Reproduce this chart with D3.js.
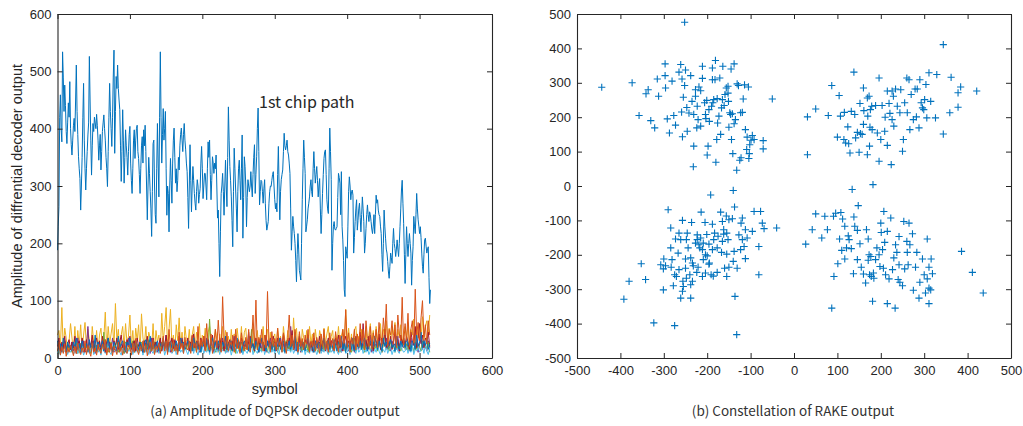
<!DOCTYPE html>
<html><head><meta charset="utf-8">
<script src="https://cdn.jsdelivr.net/npm/d3@7"></script>
<style>
html,body{margin:0;padding:0;background:#fff;}
svg{display:block;}
.tick text{font-family:"Liberation Sans",Arial,sans-serif;font-size:13px;fill:#262626;}
</style></head>
<body>
<svg id="chart" width="1023" height="426"></svg>
<script>
// ---------- data: left panel (amplitude of DQPSK decoder output) ----------
const xTicksLeft = [0,100,200,300,400,500,600];
const yTicksLeft = [0,100,200,300,400,500,600];
const xTicksRight = [-500,-400,-300,-200,-100,0,100,200,300,400,500];
const yTicksRight = [-500,-400,-300,-200,-100,0,100,200,300,400,500];

// 1st chip path, one value per symbol (0..515)
const chipPath1 = [
188,230,264,420,459,400,377,534,490,430,
476,440,395,374,410,445,420,482,400,372,
354,380,405,418,395,450,511,430,390,351,
330,313,258,300,350,420,479,380,330,293,
330,360,389,410,526,450,380,319,370,409,
395,420,410,400,425,405,380,345,370,390,
328,360,395,410,424,400,380,350,330,299,
360,420,479,430,400,369,420,490,537,357,
430,491,470,511,470,450,433,370,308,360,
433,380,305,350,398,370,350,319,360,390,
404,340,310,287,330,380,398,348,380,400,
406,360,348,320,287,330,370,386,340,398,
370,406,360,300,241,300,350,322,290,260,
212,290,374,380,300,250,235,330,409,340,
281,420,534,420,340,390,435,380,400,430,
330,249,300,287,220,300,348,310,270,340,
380,401,350,305,330,290,310,350,328,370,
390,401,380,360,390,409,380,363,340,325,
280,226,300,372,310,255,300,334,310,287,
270,258,290,311,300,270,285,296,340,369,
330,278,300,322,322,300,276,330,377,350,
380,320,276,310,351,340,322,340,330,354,
300,244,258,200,142,220,287,300,322,290,
249,300,345,300,264,350,438,380,334,310,
281,240,194,290,366,330,293,260,220,290,
330,345,310,276,330,389,209,280,351,334,
300,229,280,311,300,290,300,325,300,281,
320,350,372,287,320,351,400,436,360,267,
290,310,308,290,270,295,311,270,240,223,
230,238,270,290,300,299,310,320,325,300,
276,260,270,255,320,369,300,241,290,311,
320,328,360,392,370,363,370,380,360,354,
340,322,260,188,220,247,230,217,200,170,
133,180,217,190,153,145,136,200,276,330,
380,350,322,220,230,241,260,270,281,300,
311,290,281,330,360,330,305,320,334,310,
281,300,313,260,217,250,287,320,348,360,
363,320,276,260,252,330,401,360,311,153,
200,230,238,225,223,226,229,280,322,315,
305,250,325,229,206,170,119,107,194,185,
174,230,290,316,300,276,290,293,284,183,
210,238,260,276,223,240,260,270,245,220,
250,281,260,238,183,200,226,250,267,250,
238,255,250,238,225,217,230,250,217,250,
284,270,276,258,250,247,230,217,180,151,
200,258,230,209,190,183,168,150,139,160,
183,175,165,200,226,200,191,177,190,206,
190,177,200,229,260,293,310,270,235,180,
130,180,229,200,177,200,217,200,183,127,
170,194,247,230,217,250,287,260,241,230,
217,229,210,183,160,148,180,206,209,195,
183,190,194,140,95,119];

// other chip paths, sampled every 2 symbols (0,2,...,514)
const pathYellow = [
40,48,20,88,15,52,35,10,30,60, 35,12,55,8,48,22,58,14,40,62, 18,50,30,10,55,28,20,48,12,40,
52,20,35,80,15,55,25,42,60,18, 95,30,50,12,40,55,18,60,25,38, 75,20,48,10,52,30,58,12,77,35,
22,55,14,45,35,18,60,10,48,28, 40,15,78,30,55,88,20,50,85,22, 40,12,58,30,70,18,45,10,55,32,
25,50,12,40,55,18,45,28,60,10, 40,25,52,12,45,55,20,38,14,50, 32,10,42,22,55,14,48,25,38,18,
50,20,42,10,52,30,22,55,12,45, 52,18,38,12,42,55,20,35,48,10, 40,25,55,14,38,50,20,45,12,35,
42,18,52,25,38,12,55,30,20,48, 25,45,14,70,30,52,18,42,10,50, 35,20,48,12,55,25,42,10,50,30,
20,48,35,12,52,25,42,55,18,38, 48,14,42,25,55,20,38,50,12,85, 30,52,20,42,12,48,55,25,38,18,
50,28,20,55,14,42,60,25,48,20, 55,30,22,60,18,50,38,65,25,52, 25,55,40,62,20,50,35,58,22,48,
55,28,62,20,50,40,68,25,55,35, 60,35,72,28,55,65,40,75];
const pathPurple = [
12,20,8,25,15,30,10,18,22,14, 28,12,20,8,35,18,25,10,30,15, 20,55,12,25,18,30,8,22,15,28,
10,25,18,32,12,20,28,15,35,10, 22,15,30,12,25,18,8,28,20,35, 15,25,10,30,18,22,12,28,15,20,
30,12,25,18,8,35,20,15,28,10, 22,30,15,25,12,40,18,28,10,22, 15,32,20,10,28,18,35,12,25,20,
28,15,22,38,12,25,18,30,10,22, 18,28,12,35,20,15,30,22,10,25, 30,12,22,18,35,15,25,10,28,20,
15,25,38,12,22,30,18,10,28,15, 25,18,45,12,30,20,15,28,22,10, 32,15,25,18,10,28,20,35,12,25,
18,28,12,22,35,15,25,10,30,20, 15,55,22,30,12,25,18,35,10,22, 28,15,20,32,12,25,18,10,30,22,
15,28,20,12,35,18,25,10,22,30, 12,25,18,30,15,22,10,28,35,15, 22,12,30,18,25,10,28,20,15,35,
18,25,12,30,22,15,40,10,28,20, 25,15,32,18,10,28,22,35,15,25, 12,30,20,25,15,38,10,28,22,18,
30,15,25,12,35,20,28,15,22,10, 25,32,15,28,20,12,30,18];
const pathGreen = [
15,8,22,12,28,18,10,25,14,20, 10,22,15,30,8,18,25,12,20,15, 25,12,18,8,30,15,22,10,28,18,
12,20,45,15,25,10,18,28,12,22, 18,30,10,25,15,20,8,28,18,12, 22,15,30,10,18,25,12,20,28,15,
10,25,18,32,12,20,15,28,10,22, 18,12,28,15,22,35,10,20,25,12, 20,28,15,10,25,18,30,12,22,15,
25,12,20,30,15,22,10,28,18,12, 22,30,15,25,12,68,20,15,28,10, 18,25,12,30,15,22,10,20,28,15,
12,25,18,8,30,15,22,28,10,20, 15,28,12,22,50,18,10,25,15,30, 20,12,28,15,22,10,25,18,12,30,
15,22,10,28,18,25,12,20,30,15, 22,12,28,15,45,20,10,25,18,12, 28,15,22,10,25,18,30,12,20,15,
10,25,18,30,12,22,15,28,10,20, 18,12,25,15,30,10,22,18,28,12, 25,15,20,10,28,35,12,22,18,30,
15,22,10,25,18,30,12,20,28,15, 22,12,28,18,10,25,40,15,22,12, 30,18,22,10,28,15,25,12,20,35,
15,25,12,30,18,22,10,28,15,25, 20,12,30,18,25,15,28,10];
const pathLightBlue = [
8,15,5,20,10,12,18,6,14,10, 18,6,12,22,8,15,10,20,5,12, 10,18,8,14,25,6,12,20,10,15,
5,20,12,8,15,22,10,6,18,12, 15,8,20,10,5,18,12,25,8,14, 12,20,6,15,10,18,8,12,22,5,
18,10,14,6,20,12,8,16,10,25, 8,15,12,20,5,14,18,10,22,8, 12,18,6,15,25,10,14,8,20,12,
6,15,10,22,8,18,12,5,16,10, 20,8,14,10,25,6,18,12,8,15, 10,22,6,15,12,20,8,14,10,18,
5,16,12,22,8,14,10,20,6,15, 12,8,18,10,22,6,15,12,8,20, 14,10,25,6,16,12,8,20,10,15,
8,18,12,6,22,10,15,8,20,12, 15,10,20,8,14,25,6,18,12,10, 20,6,15,12,8,18,10,22,14,6,
12,20,8,15,10,25,12,6,18,10, 15,8,22,12,6,18,10,14,20,8, 10,18,6,25,12,15,8,20,10,14,
22,8,15,10,18,6,12,20,8,16, 10,25,12,6,18,14,10,22,8,15, 18,6,14,10,20,12,8,25,15,10,
12,20,8,16,10,22,6,15,12,18, 10,14,20,8,25,12,6,18];
const pathDarkRed = [
20,35,12,28,18,38,10,25,32,15, 28,18,38,12,25,30,15,35,20,10, 32,15,28,20,40,12,25,35,18,30,
15,38,22,10,28,35,18,25,12,30, 22,35,15,28,40,18,25,12,32,20, 38,15,25,30,12,35,20,28,18,10,
30,22,38,15,25,12,35,20,28,18, 25,35,12,30,20,40,15,28,22,35, 18,30,25,12,38,20,32,15,28,22,
35,12,28,20,42,18,30,25,15,35, 22,38,15,28,32,12,25,40,18,30, 28,15,35,22,30,12,38,20,25,32,
15,30,22,40,18,28,12,35,25,20, 32,15,28,38,20,25,12,35,22,30, 18,35,25,12,40,22,30,15,28,38,
25,12,35,20,30,18,42,15,28,22, 35,20,48,15,30,25,12,38,22,28, 15,32,25,40,18,28,12,35,22,30,
20,38,15,28,32,12,25,35,18,30, 28,15,35,22,40,18,30,12,28,38, 22,30,15,35,25,12,38,20,28,45,
18,60,25,32,15,38,22,28,12,35, 30,20,42,15,35,25,50,18,30,22, 38,15,28,45,20,32,12,40,25,35,
20,38,28,15,45,30,22,55,18,35, 60,25,40,18,35,28,45,20];
const pathBlue2 = [
30,15,25,10,35,20,12,28,18,22, 12,28,20,35,15,25,8,30,18,22, 25,10,32,18,22,15,40,12,28,20,
18,30,12,25,20,35,15,22,10,28, 20,12,38,15,25,30,18,10,28,22, 35,18,25,12,30,20,15,28,22,10,
25,32,15,20,38,12,28,18,22,30, 12,25,20,35,15,28,10,22,30,18, 25,15,30,20,12,35,22,28,15,20,
30,18,25,12,35,20,28,15,22,10, 28,20,15,32,22,10,25,35,18,28, 15,30,22,12,28,20,38,15,25,18,
30,12,25,20,35,18,28,10,22,30, 20,28,12,35,18,25,15,30,22,10, 25,35,18,22,12,30,20,28,15,25,
12,28,20,35,15,22,30,10,25,18, 30,15,25,20,38,12,28,22,18,30, 22,12,28,35,15,25,20,10,30,18,
28,20,12,25,35,18,22,30,15,25, 18,32,22,12,28,20,38,15,25,10, 30,20,25,15,35,12,28,22,18,30,
15,28,35,20,12,25,30,18,22,38, 25,15,30,22,12,35,20,28,18,25, 32,18,25,12,38,22,15,30,20,28,
18,35,22,28,12,30,25,15,40,20, 28,45,18,30,22,35,15,25];
const pathOrange = [
12,28,5,20,8,25,3,18,10,22, 15,4,20,8,26,12,6,18,10,30, 6,22,12,3,25,10,18,5,24,14,
8,24,15,32,5,18,10,26,4,20, 14,6,28,10,20,5,30,14,8,22, 18,5,26,10,34,14,6,20,12,30,
10,24,4,18,28,12,32,6,20,14, 26,8,20,38,12,30,6,50,18,10, 32,12,22,6,45,16,26,8,36,18,
14,30,8,40,18,26,10,55,14,32, 20,38,12,60,24,14,42,8,28,50, 18,66,28,10,107,36,16,45,12,28,
22,40,10,50,16,32,8,44,22,12, 36,14,50,10,30,75,22,101,14,36, 26,50,12,40,18,116,28,10,46,20,
34,14,52,22,30,10,44,24,8,36, 75,20,40,14,50,28,10,46,20,34, 14,40,24,50,10,30,20,44,12,36,
24,8,42,20,50,14,30,10,44,20, 34,12,46,24,10,40,20,50,26,84, 20,44,10,36,24,50,14,42,20,60,
26,50,14,65,34,20,55,16,44,28, 50,18,62,34,24,70,40,94,20,50, 40,65,24,58,18,75,42,30,106,22,
60,30,78,20,50,65,26,120,40,62, 30,70,100,36,58,24,65,40];

// ---------- data: right panel (constellation of RAKE output) ----------
const rakeQuad1 = [[31,201],[31,91],[50,224],[79,205],[87,292],[104,263],[100,142],[107,203],[115,135],[116,214],[119,125],[124,172],[126,123],[129,96],[132,217],[134,-10],[138,331],[140,208],[142,140],[146,156],[150,98],[152,240],[153,152],[157,150],[160,285],[160,179],[161,219],[169,256],[169,91],[170,203],[173,261],[174,116],[175,171],[176,222],[179,232],[180,164],[182,4],[188,234],[192,154],[196,314],[196,72],[200,135],[203,234],[209,159],[210,200],[215,276],[215,118],[219,240],[221,211],[224,62],[226,193],[226,276],[229,261],[230,174],[234,282],[238,232],[244,213],[246,280],[250,101],[252,135],[255,242],[260,314],[261,213],[265,309],[267,164],[270,266],[275,193],[279,282],[282,201],[284,282],[288,169],[290,309],[293,242],[296,227],[299,222],[301,251],[304,295],[306,198],[311,329],[315,246],[326,198],[329,324],[344,411],[344,151],[359,213],[362,316],[378,229],[378,271],[384,288],[421,276]];
const rakeQuad2 = [[-443,287],[-373,300],[-357,205],[-330,190],[-336,280],[-341,268],[-321,169],[-312,261],[-315,311],[-297,355],[-297,321],[-296,285],[-292,195],[-287,154],[-281,305],[-277,205],[-273,177],[-265,331],[-261,353],[-258,311],[-259,215],[-257,143],[-252,476],[-252,292],[-255,258],[-250,337],[-247,228],[-246,159],[-242,212],[-238,321],[-235,246],[-232,56],[-231,116],[-231,208],[-227,280],[-227,261],[-224,169],[-223,232],[-221,193],[-219,288],[-215,277],[-215,174],[-211,348],[-211,313],[-206,242],[-204,208],[-203,196],[-201,249],[-200,90],[-198,116],[-196,222],[-195,188],[-192,-26],[-190,232],[-188,343],[-188,309],[-187,242],[-185,251],[-182,309],[-181,365],[-180,69],[-178,135],[-177,254],[-176,183],[-173,203],[-171,314],[-169,150],[-167,227],[-165,251],[-164,348],[-161,234],[-159,266],[-156,285],[-152,270],[-152,290],[-151,246],[-150,171],[-148,213],[-146,208],[-145,340],[-144,135],[-142,210],[-141,94],[-140,-13],[-138,355],[-138,181],[-135,193],[-132,46],[-131,297],[-128,292],[-125,75],[-123,213],[-122,82],[-119,214],[-117,253],[-114,294],[-112,164],[-109,106],[-108,142],[-105,288],[-104,80],[-103,94],[-102,120],[-99,133],[-96,147],[-92,135],[-71,132],[-71,108],[-50,253]];
const rakeQuad3 = [[-137,-61],[-290,-69],[-284,-122],[-257,-100],[-236,-106],[-214,-76],[-205,-106],[-188,-111],[-169,-76],[-165,-103],[-162,-127],[-156,-87],[-150,-98],[-142,-95],[-119,-93],[-122,-108],[-92,-74],[-77,-74],[-73,-108],[-69,-124],[-40,-122],[-96,-132],[-112,-127],[-108,-151],[-115,-176],[-119,-156],[-127,-142],[-123,-185],[-112,-211],[-138,-190],[-140,-219],[-131,-239],[-152,-156],[-155,-137],[-162,-140],[-165,-161],[-175,-146],[-177,-180],[-185,-156],[-183,-137],[-188,-185],[-196,-169],[-195,-224],[-191,-258],[-186,-262],[-177,-251],[-167,-193],[-160,-239],[-155,-263],[-150,-236],[-155,-198],[-136,-321],[-132,-432],[-81,-258],[-81,-176],[-201,-141],[-200,-203],[-196,-227],[-209,-166],[-209,-214],[-204,-200],[-211,-185],[-217,-180],[-223,-156],[-219,-171],[-227,-166],[-221,-236],[-204,-253],[-211,-263],[-224,-251],[-232,-232],[-234,-224],[-238,-209],[-240,-258],[-234,-277],[-238,-287],[-238,-326],[-248,-156],[-244,-180],[-250,-212],[-250,-239],[-248,-268],[-255,-292],[-257,-306],[-261,-326],[-256,-277],[-267,-195],[-265,-243],[-271,-263],[-275,-258],[-281,-214],[-284,-180],[-283,-236],[-278,-290],[-296,-232],[-300,-212],[-307,-229],[-301,-241],[-301,-302],[-273,-154],[-265,-137],[-261,-156],[-223,-142],[-215,-151],[-246,-137],[-352,-226],[-380,-277],[-342,-272],[-392,-329],[-323,-398],[-275,-406]];
const rakeQuad4 = [[27,-169],[42,-127],[50,-81],[64,-151],[71,-88],[77,-127],[91,-88],[92,-263],[87,-355],[96,-79],[101,-226],[105,-154],[108,-77],[110,-187],[112,-96],[117,-117],[117,-212],[121,-180],[125,-145],[127,-156],[132,-182],[137,-255],[138,-90],[140,-117],[146,-214],[148,-57],[146,-129],[152,-168],[155,-236],[160,-256],[165,-282],[167,-127],[171,-154],[171,-216],[173,-200],[174,-258],[177,-205],[178,-263],[181,-335],[183,-253],[184,-268],[188,-214],[191,-180],[196,-200],[198,-234],[200,-108],[201,-135],[204,-185],[206,-239],[207,-74],[209,-164],[211,-258],[215,-342],[215,-132],[219,-270],[223,-93],[227,-243],[230,-209],[233,-355],[234,-171],[237,-193],[240,-272],[242,-147],[242,-229],[244,-280],[250,-290],[253,-103],[255,-241],[260,-161],[261,-193],[263,-229],[265,-108],[267,-171],[273,-139],[275,-303],[280,-236],[283,-193],[288,-326],[290,-280],[296,-212],[300,-258],[303,-311],[307,-154],[307,-270],[311,-236],[311,-297],[315,-302],[311,-342],[316,-212],[319,-255],[386,-190],[411,-251],[436,-311]];

// ---------- drawing ----------
const svg = d3.select("#chart");
const axisColor = "#262626";
const fmt = d => String(d); // ASCII hyphen-minus like the original

function frame(g, x, y, xt, yt) {
  const tk = 5;
  const L = x.range()[0], R = x.range()[1], B = y.range()[0], T = y.range()[1];
  g.append("g").attr("transform", `translate(0,${B})`)
    .call(d3.axisBottom(x).tickValues(xt).tickFormat(fmt).tickSizeInner(-tk).tickSizeOuter(0).tickPadding(8));
  g.append("g").attr("transform", `translate(0,${T})`)
    .call(d3.axisTop(x).tickValues(xt).tickFormat("").tickSizeInner(-tk).tickSizeOuter(0));
  g.append("g").attr("transform", `translate(${L},0)`)
    .call(d3.axisLeft(y).tickValues(yt).tickFormat(fmt).tickSizeInner(-tk).tickSizeOuter(0).tickPadding(6));
  g.append("g").attr("transform", `translate(${R},0)`)
    .call(d3.axisRight(y).tickValues(yt).tickFormat("").tickSizeInner(-tk).tickSizeOuter(0));
  g.selectAll(".domain").attr("stroke", axisColor).attr("stroke-width", 1.1);
  g.selectAll(".tick line").attr("stroke", axisColor).attr("stroke-width", 1);
}

// left panel
const xL = d3.scaleLinear().domain([0, 600]).range([57.5, 492]);
const yL = d3.scaleLinear().domain([0, 600]).range([358, 14]);
const gL = svg.append("g");

const lineMain = d3.line().x((d, i) => xL(i)).y(d => yL(d));
const lineStep2 = d3.line().x((d, i) => xL(i * 2)).y(d => yL(d));

gL.append("path").datum(chipPath1).attr("d", lineMain)
  .attr("fill", "none").attr("stroke", "#0072BD").attr("stroke-width", 1).attr("stroke-linejoin", "round");

const otherPaths = [
  [pathYellow, "#EDB120"],
  [pathPurple, "#7E2F8E"],
  [pathGreen, "#77AC30"],
  [pathLightBlue, "#4DBEEE"],
  [pathDarkRed, "#A2142F"],
  [pathBlue2, "#0072BD"],
  [pathOrange, "#D95319"]
];
otherPaths.forEach(([vals, col]) => {
  gL.append("path").datum(vals).attr("d", lineStep2)
    .attr("fill", "none").attr("stroke", col).attr("stroke-width", 1).attr("stroke-linejoin", "round");
});
frame(gL, xL, yL, xTicksLeft, yTicksLeft);

gL.append("text").attr("x", 259).attr("y", 108)
  .style("font-family", '"Noto Sans CJK KR","Open Sans",sans-serif').style("font-size", "16px").attr("fill", "#262626")
  .text("1st chip path");
gL.append("text").attr("x", xL(300)).attr("y", 394).attr("text-anchor", "middle")
  .style("font-family", '"Liberation Sans",Arial,sans-serif').style("font-size", "14.5px").attr("fill", "#262626")
  .text("symbol");
gL.append("text").attr("transform", "translate(22,186) rotate(-90)").attr("text-anchor", "middle")
  .style("font-family", '"Liberation Sans",Arial,sans-serif').style("font-size", "14.5px").attr("fill", "#262626")
  .text("Amplitude of diffrential decoder output");
gL.append("text").attr("x", 275).attr("y", 416).attr("text-anchor", "middle")
  .style("font-family", '"Noto Sans CJK KR","Open Sans",sans-serif').style("font-size", "13.5px").attr("fill", "#333")
  .text("(a) Amplitude of DQPSK decoder output");

// right panel
const xR = d3.scaleLinear().domain([-500, 500]).range([577, 1011]);
const yR = d3.scaleLinear().domain([-500, 500]).range([358, 14]);
const gR = svg.append("g");
const allPts = rakeQuad2.concat(rakeQuad1, rakeQuad3, rakeQuad4);
const arm = 3.6;
gR.append("g").selectAll("path").data(allPts).join("path")
  .attr("d", d => {
    const cx = xR(d[0]), cy = yR(d[1]);
    return `M${cx - arm},${cy}H${cx + arm}M${cx},${cy - arm}V${cy + arm}`;
  })
  .attr("stroke", "#0072BD").attr("stroke-width", 1.1).attr("fill", "none");
frame(gR, xR, yR, xTicksRight, yTicksRight);
gR.append("text").attr("x", 793).attr("y", 416).attr("text-anchor", "middle")
  .style("font-family", '"Noto Sans CJK KR","Open Sans",sans-serif').style("font-size", "13.5px").attr("fill", "#333")
  .text("(b) Constellation of RAKE output");
</script>
</body></html>
